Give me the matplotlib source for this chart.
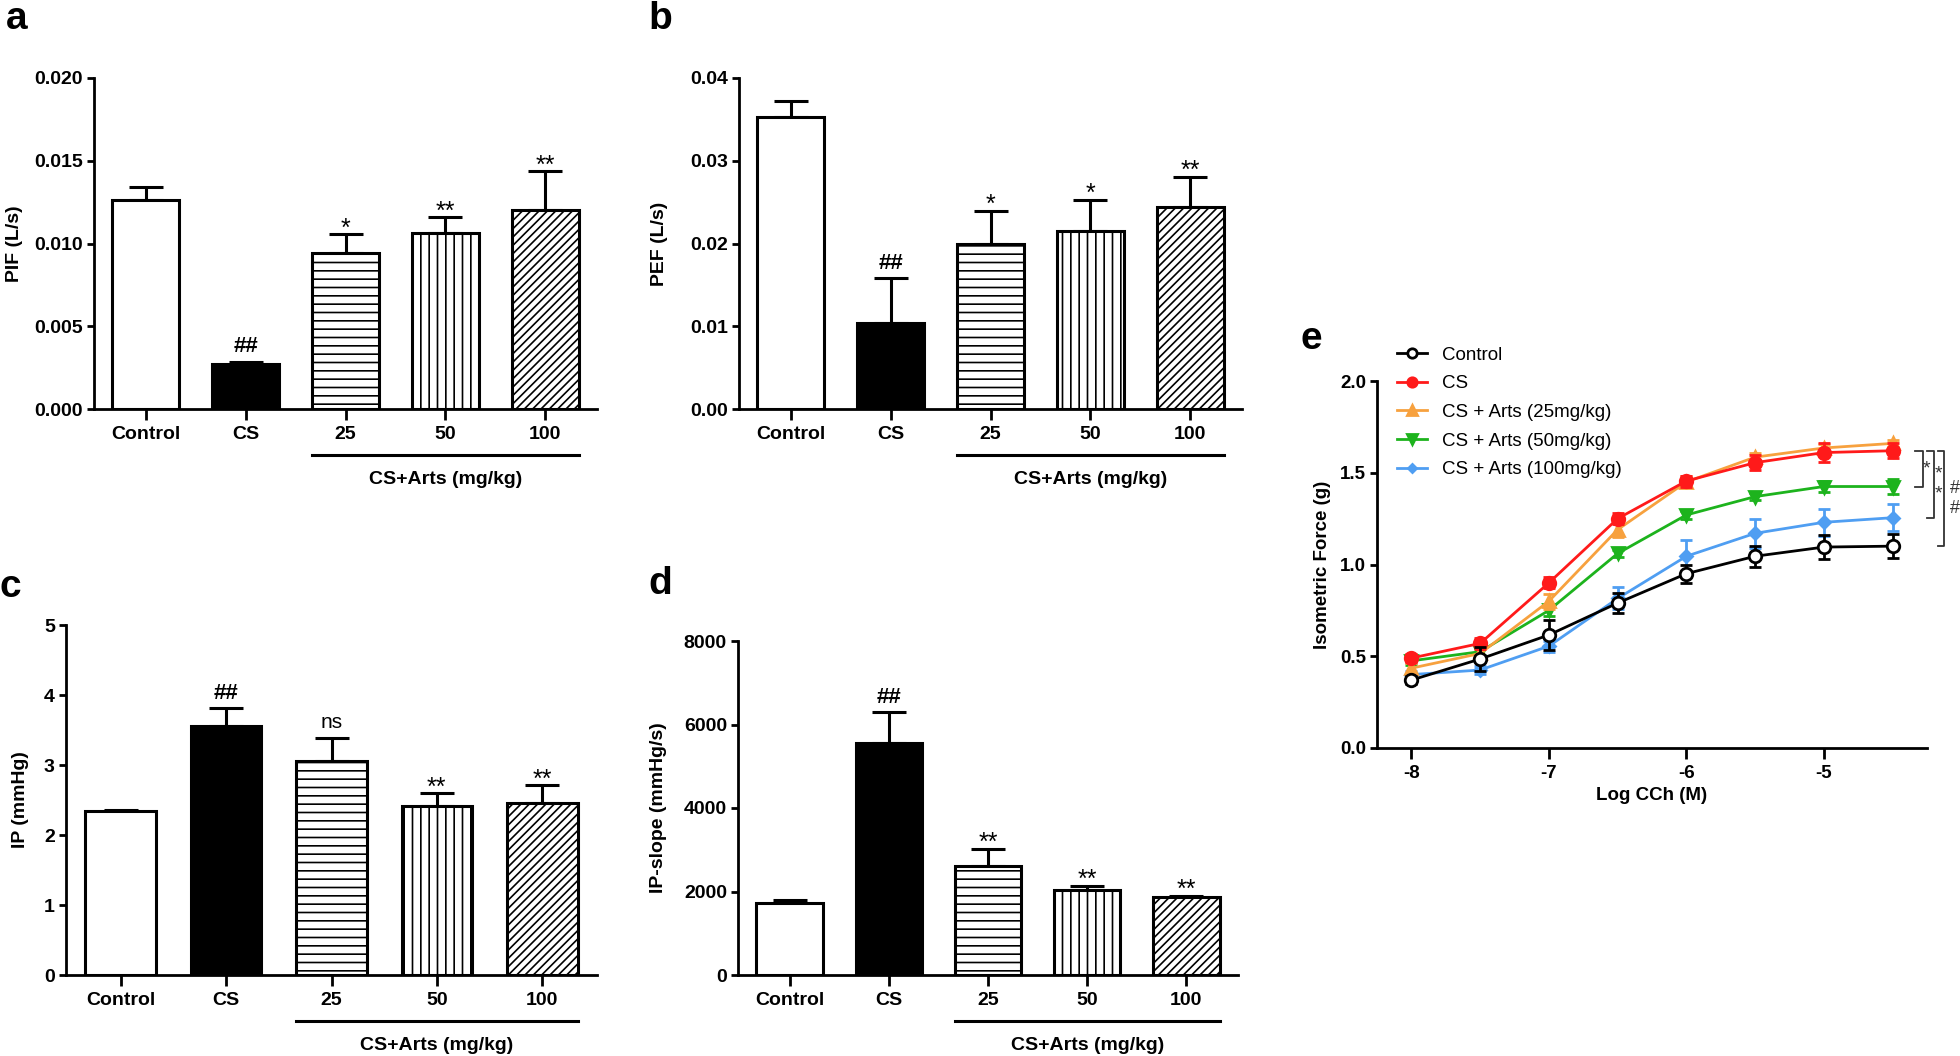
import numpy as np
import matplotlib
matplotlib.use("Agg")
import matplotlib.pyplot as plt
from matplotlib.transforms import ScaledTranslation

plt.rcParams["font.family"] = ["Liberation Sans", "DejaVu Sans"]
plt.rcParams["hatch.linewidth"] = 1.2
plt.rcParams["axes.linewidth"] = 2

W, H = 1960, 1056

# ---- bar panels (a-d) ----
groups = ["Control", "CS", "25", "50", "100"]
dose_label = "CS+Arts (mg/kg)"

pif_mean = [0.01263, 0.00269, 0.0094, 0.01065, 0.0120]
pif_sem = [0.00077, 0.00018, 0.00117, 0.00093, 0.00238]
pif_sig = ["", "##", "*", "**", "**"]

pef_mean = [0.03533, 0.01035, 0.01994, 0.02151, 0.02445]
pef_sem = [0.00193, 0.00544, 0.00403, 0.00379, 0.00363]
pef_sig = ["", "##", "*", "*", "**"]

ip_mean = [2.338, 3.557, 3.058, 2.412, 2.456]
ip_sem = [0.015, 0.254, 0.328, 0.181, 0.254]
ip_sig = ["", "##", "ns", "**", "**"]

slope_mean = [1723, 5555, 2609, 2027, 1862]
slope_sem = [82, 738, 410, 106, 33]
slope_sig = ["", "##", "**", "**", "**"]

# ---- dose-response (e) ----
log_cch = [-8, -7.5, -7, -6.5, -6, -5.5, -5, -4.5]
ctrl = [0.37, 0.485, 0.616, 0.79, 0.95, 1.045, 1.095, 1.10]
ctrl_err = [0.02, 0.065, 0.08, 0.056, 0.05, 0.056, 0.065, 0.065]
cs = [0.49, 0.57, 0.90, 1.25, 1.455, 1.555, 1.61, 1.62]
cs_err = [0.02, 0.03, 0.03, 0.03, 0.03, 0.04, 0.05, 0.04]
arts25 = [0.435, 0.515, 0.80, 1.19, 1.45, 1.585, 1.635, 1.66]
arts25_err = [0.03, 0.04, 0.04, 0.04, 0.03, 0.02, 0.02, 0.02]
arts50 = [0.475, 0.525, 0.75, 1.06, 1.27, 1.37, 1.425, 1.425]
arts50_err = [0.02, 0.02, 0.03, 0.02, 0.02, 0.02, 0.03, 0.04]
arts100 = [0.40, 0.425, 0.555, 0.815, 1.045, 1.17, 1.23, 1.255]
arts100_err = [0.02, 0.02, 0.03, 0.06, 0.09, 0.08, 0.075, 0.075]

fig = plt.figure(figsize=(W / 100, H / 100), dpi=100)


def px_axes(l, t, r, b):
    return fig.add_axes([l / W, 1 - b / H, (r - l) / W, (b - t) / H])


def bar_panel(ax, mean, sem, sig, ymax, yticks, fmt, ylabel, label_x):
    x = np.arange(len(groups))
    hatches = ["", "", "--", "||", "////"]
    faces = ["white", "black", "white", "white", "white"]
    for i in x:
        ax.bar(i, mean[i], width=0.67, color=faces[i], edgecolor="black",
               linewidth=2.2, hatch=hatches[i], zorder=2)
    ax.errorbar(x, mean, yerr=[np.zeros(len(x)), sem], fmt="none", ecolor="black",
                elinewidth=2.2, capsize=12, capthick=2.2, zorder=1)
    for i, s in enumerate(sig):
        if not s:
            continue
        if "*" in s:
            off, size, wt = -1, 18, "normal"
        elif "#" in s:
            off, size, wt = 7, 16, "bold"
        else:
            off, size, wt = 7, 15, "normal"
        ax.annotate(s, xy=(i, mean[i] + sem[i]), xytext=(0, off), textcoords="offset points",
                    ha="center", va="baseline", fontsize=size, fontweight=wt)
    ax.set_xlim(-0.52, 4.52)
    ax.set_ylim(0, ymax)
    ax.set_yticks(yticks)
    ax.set_yticklabels([fmt.format(v) for v in yticks])
    ax.set_xticks(x)
    ax.set_xticklabels(groups)
    for sp in ["top", "right"]:
        ax.spines[sp].set_visible(False)
    ax.tick_params(axis="x", length=8, width=2, pad=4, labelsize=14)
    ax.tick_params(axis="y", length=5, width=2, pad=3, labelsize=14)
    for t in ax.get_xticklabels() + ax.get_yticklabels():
        t.set_fontweight("bold")
    ax.set_ylabel(ylabel, fontsize=14, fontweight="bold")
    ax.yaxis.set_label_coords(label_x, 0.5)
    # underline for the treated groups
    tr = ax.get_xaxis_transform()
    line_tr = tr + ScaledTranslation(0, -0.46, fig.dpi_scale_trans)
    ax.plot([2 - 0.335, 4 + 0.335], [0, 0], color="black", lw=2.2,
            transform=line_tr, clip_on=False)
    text_tr = tr + ScaledTranslation(0, -0.70, fig.dpi_scale_trans)
    ax.text(3, 0, dose_label, transform=text_tr, ha="center", va="center",
            fontsize=14, fontweight="bold")


ax_a = px_axes(94, 78, 597, 409)
bar_panel(ax_a, pif_mean, pif_sem, pif_sig, 0.020, [0, 0.005, 0.010, 0.015, 0.020],
          "{:.3f}", "PIF (L/s)", -0.141)

ax_b = px_axes(739, 78, 1242, 409)
bar_panel(ax_b, pef_mean, pef_sem, pef_sig, 0.04, [0, 0.01, 0.02, 0.03, 0.04],
          "{:.2f}", "PEF (L/s)", -0.141)

ax_c = px_axes(66, 625, 597, 975)
bar_panel(ax_c, ip_mean, ip_sem, ip_sig, 5, [0, 1, 2, 3, 4, 5],
          "{:.0f}", "IP (mmHg)", -0.07)

ax_d = px_axes(738, 641, 1238, 975)
bar_panel(ax_d, slope_mean, slope_sem, slope_sig, 8000, [0, 2000, 4000, 6000, 8000],
          "{:.0f}", "IP-slope (mmHg/s)", -0.142)

# ---- panel e ----
ax_e = px_axes(1377, 381, 1927, 748)
series = [
    ("CS + Arts (100mg/kg)", arts100, arts100_err, "#4F9EF2", "D", 6, "#4F9EF2"),
    ("CS + Arts (50mg/kg)", arts50, arts50_err, "#1DB31D", "v", 9, "#1DB31D"),
    ("CS + Arts (25mg/kg)", arts25, arts25_err, "#F7A13E", "^", 9, "#F7A13E"),
    ("CS", cs, cs_err, "#FF1A1A", "o", 9, "#FF1A1A"),
    ("Control", ctrl, ctrl_err, "black", "o", 9, "white"),
]
lines = {}
for z, (name, y, err, col, mk, ms, mfc) in enumerate(series):
    ax_e.errorbar(log_cch, y, yerr=err, fmt="none", ecolor=col, elinewidth=2,
                  capsize=4, capthick=2, zorder=2 + z)
    ln, = ax_e.plot(log_cch, y, color=col, lw=2, marker=mk, markersize=ms,
                    markerfacecolor=mfc, markeredgecolor=col, markeredgewidth=2,
                    label=name, zorder=2.5 + z)
    lines[name] = ln

order = ["Control", "CS", "CS + Arts (25mg/kg)", "CS + Arts (50mg/kg)", "CS + Arts (100mg/kg)"]
ax_e.legend([lines[n] for n in order], order, loc="upper left",
            bbox_to_anchor=(1388 / W, 1 - 337 / H), bbox_transform=fig.transFigure,
            frameon=False, fontsize=13.5, handlelength=1.6, handletextpad=0.8,
            labelspacing=0.62, borderpad=0, markerscale=0.75)

ax_e.set_xlim(-8.25, -4.25)
ax_e.set_ylim(0, 2.0)
ax_e.set_xticks([-8, -7, -6, -5])
ax_e.set_xticklabels(["-8", "-7", "-6", "-5"])
ax_e.set_yticks([0, 0.5, 1.0, 1.5, 2.0])
ax_e.set_yticklabels(["0.0", "0.5", "1.0", "1.5", "2.0"])
for sp in ["top", "right"]:
    ax_e.spines[sp].set_visible(False)
ax_e.tick_params(axis="x", length=8, width=2, pad=4, labelsize=13.5)
ax_e.tick_params(axis="y", length=5, width=2, pad=3, labelsize=13.5)
for t in ax_e.get_xticklabels() + ax_e.get_yticklabels():
    t.set_fontweight("bold")
ax_e.set_xlabel("Log CCh (M)", fontsize=13.5, fontweight="bold")
ax_e.xaxis.set_label_coords(0.5, -0.105)
ax_e.set_ylabel("Isometric Force (g)", fontsize=13.5, fontweight="bold")
ax_e.yaxis.set_label_coords(-0.084, 0.5)

# significance brackets against the CS curve
top = cs[-1]
brackets = [(arts50[-1], -4.28, 0.06, ["*"], -4.255),
            (arts100[-1], -4.20, 0.05, ["*", "*"], -4.17),
            (ctrl[-1], -4.13, 0.04, ["#", "#"], -4.05)]
for bottom, bx, arm, marks, tx in brackets:
    ax_e.plot([bx - arm, bx, bx, bx - arm], [top, top, bottom, bottom],
              color="#333333", lw=1.3, clip_on=False)
    mid = (top + bottom) / 2
    n = len(marks)
    for k, m in enumerate(marks):
        yy = mid + (0.055 if n > 1 else 0) * (1 if k == 0 else -1)
        ax_e.text(tx, yy, m, ha="center", va="center",
                  fontsize=14 if m == "*" else 13,
                  color="#333333", clip_on=False)

# panel letters
for letter, x, y in [("a", 17, 19), ("b", 660, 19), ("c", 10, 587),
                     ("d", 660, 584), ("e", 1311, 339)]:
    fig.text(x / W, 1 - y / H, letter, fontsize=28, fontweight="bold",
             ha="center", va="center")

fig.savefig("out.png", dpi=100)
